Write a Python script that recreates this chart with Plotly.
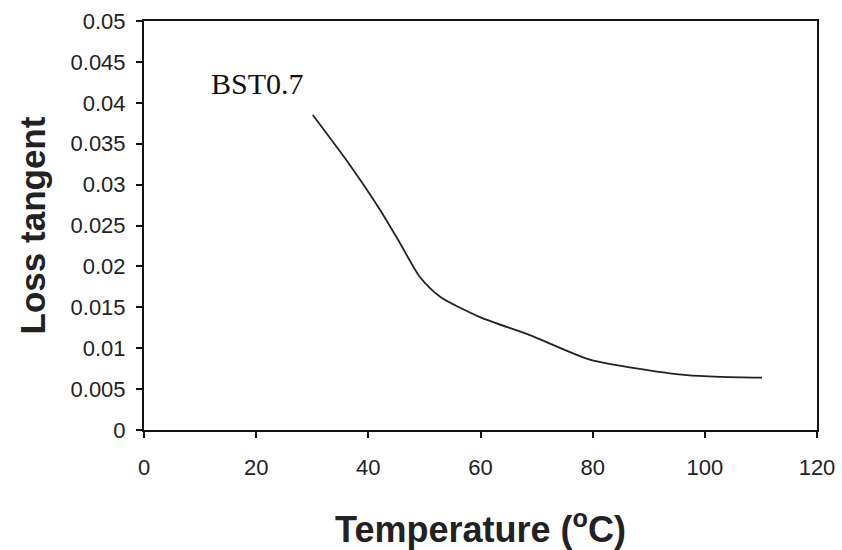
import plotly.graph_objects as go

# Data
temperature = [30.1, 36.7, 42.1, 45.6, 49.2, 52.8, 59.9, 68.8, 79.5, 87.2, 96.8, 103.0, 110.2]
loss_tangent = [0.0385, 0.0324, 0.0269, 0.0229, 0.0187, 0.0163, 0.0138,
                0.0116, 0.0086, 0.0076, 0.0067, 0.0065, 0.0064]

x_ticks = [0, 20, 40, 60, 80, 100, 120]
y_ticks = [0, 0.005, 0.01, 0.015, 0.02, 0.025, 0.03, 0.035, 0.04, 0.045, 0.05]
y_tick_text = ["0", "0.005", "0.01", "0.015", "0.02", "0.025", "0.03", "0.035",
               "0.04", "0.045", "0.05"]
series_label = "BST0.7"

fig = go.Figure()
fig.add_trace(go.Scatter(
    x=temperature, y=loss_tangent, mode="lines",
    line=dict(color="#222222", width=1.8, shape="spline", smoothing=0.7),
    showlegend=False, name=series_label,
))

fig.add_annotation(
    x=11.5, y=0.0424, xref="x", yref="y", text=series_label, showarrow=False,
    xanchor="left", yanchor="middle",
    font=dict(family="Liberation Serif", size=30, color="#111111"),
)

axis_common = dict(
    showline=True, linecolor="#111111", linewidth=2, mirror=True,
    showgrid=False, zeroline=False, ticks="outside", ticklen=6,
    tickcolor="#111111", tickwidth=1.5, automargin=False,
    tickfont=dict(family="Liberation Sans", size=22, color="#222222"),
)

fig.update_xaxes(
    range=[0, 120], tickvals=x_ticks, ticktext=[str(v) for v in x_ticks],
    ticklabelstandoff=11,
    title=dict(text="Temperature (<sup>o</sup>C)", standoff=44,
               font=dict(family="Liberation Sans", size=36, color="#222222",
                         weight="bold")),
    **axis_common,
)
fig.update_yaxes(
    range=[0, 0.05], tickvals=y_ticks, ticktext=y_tick_text,
    ticklabelstandoff=6,
    title=dict(text="Loss tangent", standoff=14,
               font=dict(family="Liberation Sans", size=35, color="#222222",
                         weight="bold")),
    **axis_common,
)

fig.update_layout(
    width=842, height=550,
    margin=dict(l=144, r=25, t=21, b=120),
    paper_bgcolor="white", plot_bgcolor="white",
)

fig.write_html("out.html")
